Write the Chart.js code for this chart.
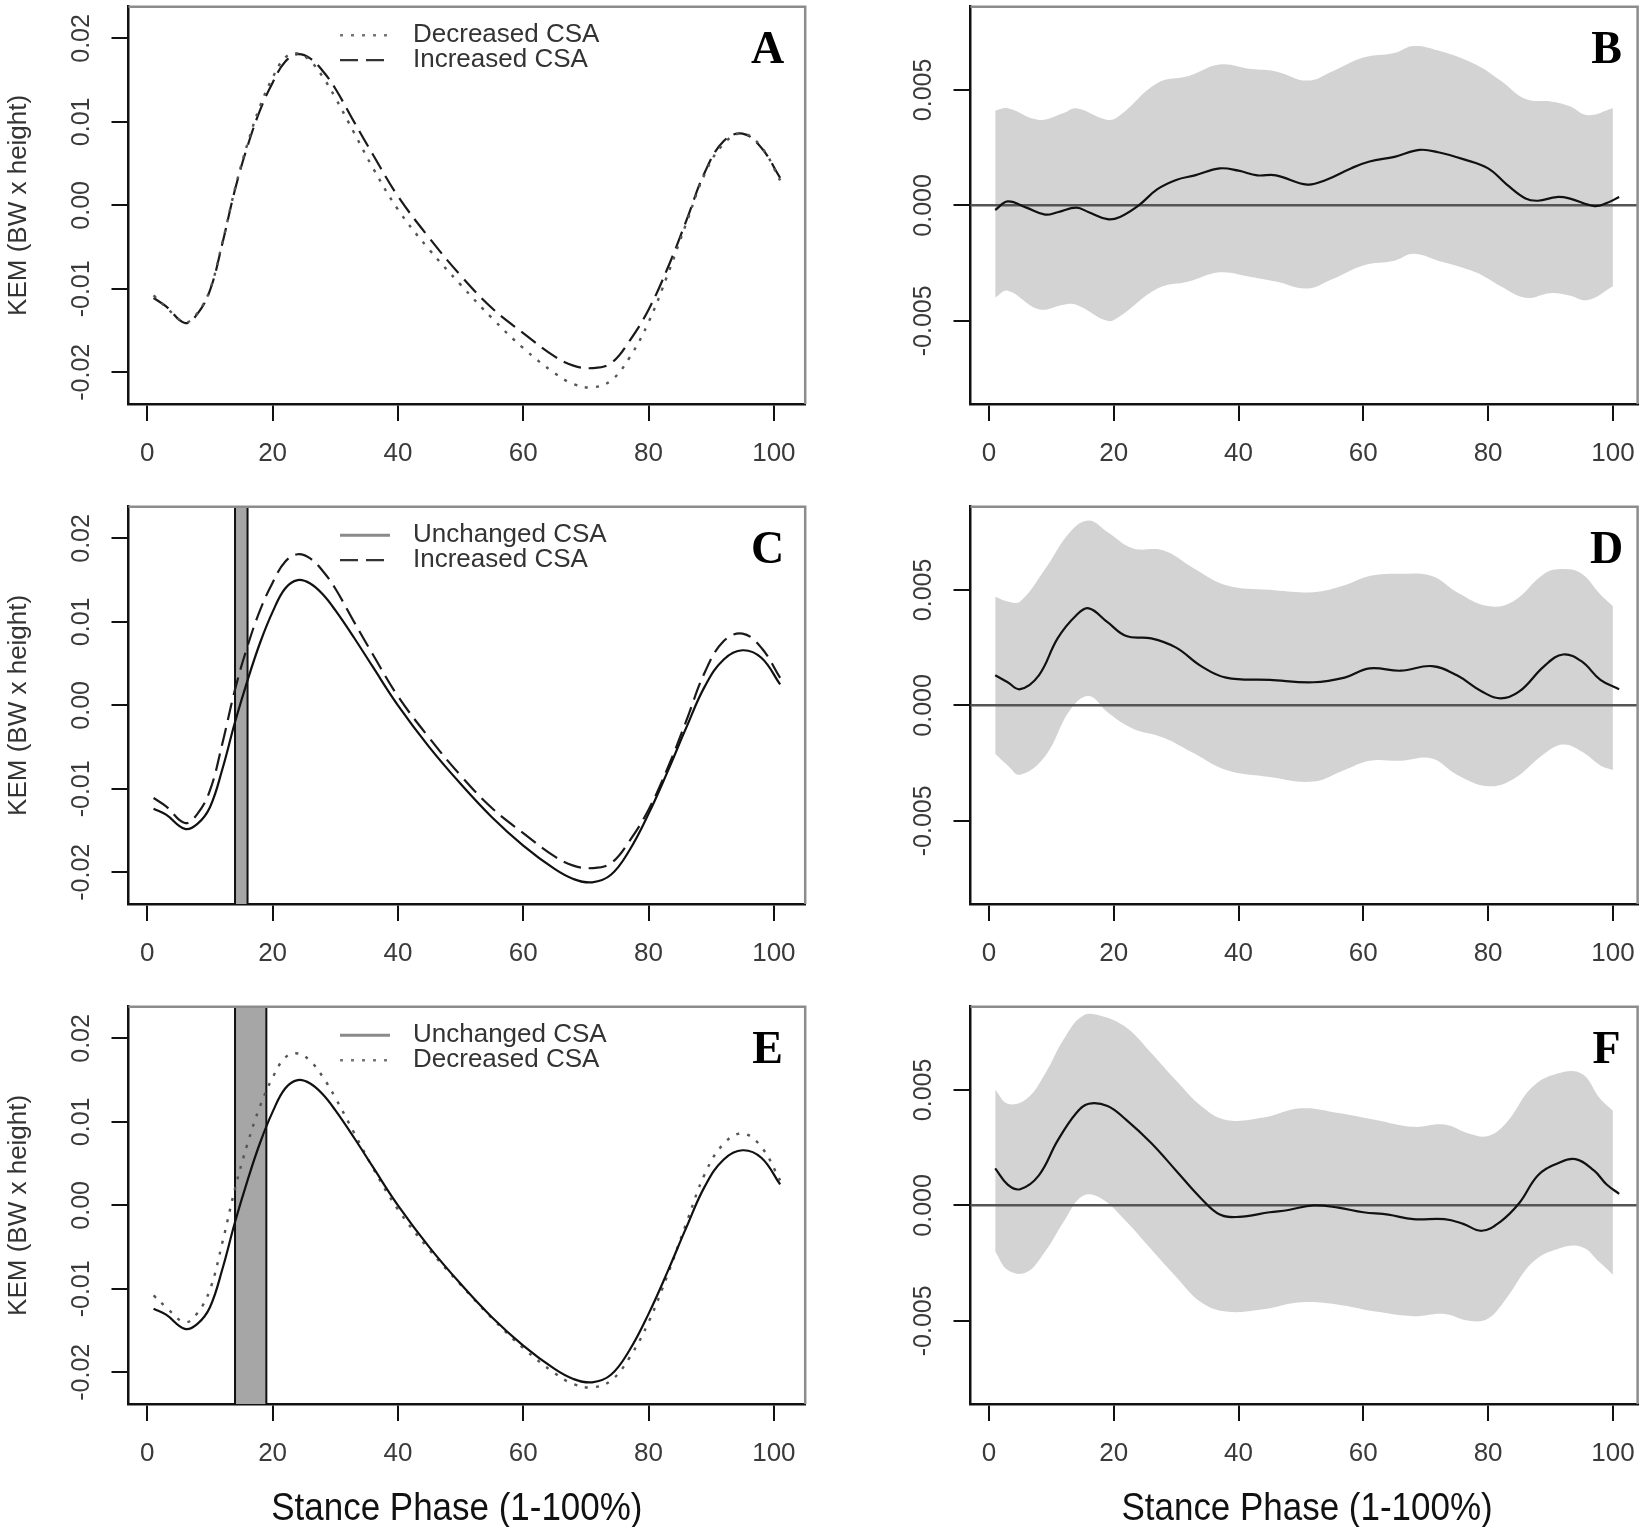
<!DOCTYPE html>
<html>
<head>
<meta charset="utf-8">
<script src="https://cdn.jsdelivr.net/npm/chart.js@4.4.1/dist/chart.umd.min.js"></script>
<style>
  html, body { margin: 0; padding: 0; background: #fff; }
  #page { position: relative; width: 1652px; height: 1527px; overflow: hidden; background: #fff; }
  #page canvas { position: absolute; }
</style>
</head>
<body>
<div id="page">
  <canvas id="panelA" width="826" height="500" style="left:0;top:0"></canvas>
  <canvas id="panelB" width="826" height="500" style="left:826px;top:0"></canvas>
  <canvas id="panelC" width="826" height="500" style="left:0;top:500px"></canvas>
  <canvas id="panelD" width="826" height="500" style="left:826px;top:500px"></canvas>
  <canvas id="panelE" width="826" height="527" style="left:0;top:1000px"></canvas>
  <canvas id="panelF" width="826" height="527" style="left:826px;top:1000px"></canvas>
</div>
<script>
// stance phase sample points for the KEM curves (panels A, C, E)
const kemX = [1, 3, 6, 8, 10, 12, 14, 16, 18, 20, 22, 24, 26, 28, 30, 33, 36, 40, 45, 50, 55, 60, 65, 68, 71, 74, 77, 80, 83, 86, 89, 92, 95, 98, 101];
const unchangedCSA = [-0.0124, -0.0131, -0.0148, -0.0142, -0.0122, -0.0076, -0.0020, 0.0030, 0.0075, 0.0112, 0.0140, 0.0150, 0.0146, 0.0133, 0.0114, 0.0081, 0.0046, 0.0000, -0.0050, -0.0094, -0.0134, -0.0168, -0.0196, -0.0208, -0.0212, -0.0203, -0.0173, -0.0130, -0.0080, -0.0027, 0.0023, 0.0055, 0.0066, 0.0057, 0.0025];
const increasedCSA = [-0.0111, -0.0121, -0.0141, -0.0130, -0.0102, -0.0045, 0.0019, 0.0071, 0.0114, 0.0147, 0.0172, 0.0181, 0.0176, 0.0161, 0.0140, 0.0100, 0.0061, 0.0011, -0.0039, -0.0084, -0.0123, -0.0153, -0.0181, -0.0192, -0.0195, -0.0189, -0.0162, -0.0125, -0.0076, -0.0019, 0.0040, 0.0077, 0.0086, 0.0069, 0.0033];
const decreasedCSA = [-0.0108, -0.0122, -0.0140, -0.0129, -0.0101, -0.0044, 0.0020, 0.0074, 0.0119, 0.0153, 0.0177, 0.0182, 0.0173, 0.0154, 0.0129, 0.0087, 0.0045, -0.0005, -0.0053, -0.0095, -0.0135, -0.0171, -0.0201, -0.0214, -0.0218, -0.0210, -0.0182, -0.0140, -0.0084, -0.0022, 0.0038, 0.0074, 0.0086, 0.0070, 0.0030];

// significant regions (shaded bars)
const sigRegionC = [14, 16];
const sigRegionE = [14, 19];

// B: increased - decreased
const bLineX = [1, 3, 6, 9, 11, 14, 16, 19, 21, 24, 27, 30, 33, 37, 40, 43, 46, 51, 54, 58, 61, 65, 69, 72, 76, 80, 83, 86, 88, 91, 93, 97, 99, 101];
const bLine = [-0.0002, 0.00017, -0.0001, -0.0004, -0.0003, -0.0001, -0.0003, -0.0006, -0.0005, 0.0000, 0.0007, 0.0011, 0.0013, 0.0016, 0.0015, 0.0013, 0.0013, 0.0009, 0.0011, 0.0016, 0.0019, 0.0021, 0.0024, 0.0023, 0.0020, 0.0016, 0.0009, 0.0003, 0.0002, 0.00036, 0.0003, -0.00003, 0.0001, 0.00036];
const bBandX = [1, 3, 8, 12, 14, 19, 21, 27, 32, 37, 42, 46, 51, 55, 60, 65, 68, 72, 78, 82, 86, 90, 93, 96, 100];
const bUpper = [0.0041, 0.0042, 0.0037, 0.0040, 0.0042, 0.0037, 0.0039, 0.0053, 0.0056, 0.0061, 0.0059, 0.0058, 0.0054, 0.0058, 0.0064, 0.0066, 0.0069, 0.0067, 0.0061, 0.0054, 0.0046, 0.0045, 0.0043, 0.0039, 0.0042];
const bLower = [-0.0040, -0.0037, -0.0045, -0.0043, -0.0043, -0.0050, -0.0048, -0.0036, -0.0033, -0.0029, -0.0031, -0.0033, -0.0036, -0.0032, -0.0026, -0.0024, -0.0021, -0.0024, -0.0029, -0.0035, -0.0040, -0.0038, -0.0039, -0.0041, -0.0035];

// D: increased - unchanged
const dLineX = [1, 3, 5, 8, 11, 14, 16, 19, 22, 26, 30, 34, 38, 45, 52, 57, 61, 66, 71, 75, 79, 82, 85, 89, 92, 95, 98, 101];
const dLine = [0.0013, 0.0010, 0.0007, 0.0013, 0.0029, 0.0039, 0.0042, 0.0036, 0.0030, 0.0029, 0.0025, 0.0017, 0.0012, 0.0011, 0.0010, 0.0012, 0.0016, 0.0015, 0.0017, 0.0013, 0.0006, 0.0003, 0.0006, 0.0017, 0.0022, 0.0019, 0.0011, 0.0007];
const dBandX = [1, 3, 5, 9, 13, 16, 19, 23, 28, 33, 38, 45, 52, 57, 61, 66, 71, 75, 80, 84, 89, 92, 95, 98, 100];
const dUpper = [0.0047, 0.0045, 0.0045, 0.0059, 0.0075, 0.0080, 0.0075, 0.0068, 0.0067, 0.0059, 0.0052, 0.0050, 0.0049, 0.0052, 0.0056, 0.0057, 0.0056, 0.0049, 0.0043, 0.0045, 0.0057, 0.0059, 0.0057, 0.0048, 0.0043];
const dLower = [-0.0021, -0.0026, -0.0030, -0.0022, -0.0002, 0.0004, -0.0003, -0.0010, -0.0014, -0.0021, -0.0028, -0.0031, -0.0033, -0.0028, -0.0024, -0.0024, -0.0023, -0.0030, -0.0035, -0.0032, -0.0021, -0.0017, -0.0020, -0.0026, -0.0028];

// F: decreased - unchanged
const fLineX = [1, 3, 5, 8, 11, 14, 16, 19, 22, 26, 30, 34, 37, 40, 45, 48, 52, 56, 60, 64, 68, 73, 76, 79, 82, 85, 88, 91, 94, 97, 99, 101];
const fLine = [0.0016, 0.0009, 0.0007, 0.0013, 0.0028, 0.0040, 0.0044, 0.0043, 0.0037, 0.0027, 0.0015, 0.0003, -0.0004, -0.0005, -0.0003, -0.0002, 0.0000, -0.0001, -0.0003, -0.0004, -0.0006, -0.0006, -0.0008, -0.0011, -0.0007, 0.0001, 0.0013, 0.0018, 0.0020, 0.0015, 0.0009, 0.0005];
const fBandX = [1, 3, 6, 9, 12, 15, 18, 22, 26, 30, 34, 38, 44, 50, 56, 62, 68, 73, 77, 80, 83, 87, 91, 95, 98, 100];
const fUpper = [0.0050, 0.0044, 0.0046, 0.0057, 0.0072, 0.0082, 0.0082, 0.0077, 0.0066, 0.0054, 0.0043, 0.0037, 0.0038, 0.0042, 0.0040, 0.0037, 0.0034, 0.0035, 0.0031, 0.0030, 0.0036, 0.0051, 0.0057, 0.0057, 0.0046, 0.0041];
const fLower = [-0.0020, -0.0028, -0.0029, -0.0020, -0.0007, 0.0004, 0.0003, -0.0007, -0.0019, -0.0031, -0.0042, -0.0046, -0.0045, -0.0042, -0.0043, -0.0046, -0.0048, -0.0047, -0.0050, -0.0049, -0.0040, -0.0025, -0.0019, -0.0018, -0.0025, -0.0030];

// ticks
const xTicks = [0, 20, 40, 60, 80, 100];
const xTickLabels = ['0', '20', '40', '60', '80', '100'];
const kemTicks = [-0.02, -0.01, 0, 0.01, 0.02];
const kemTickLabels = ['-0.02', '-0.01', '0.00', '0.01', '0.02'];
const diffTicks = [-0.005, 0, 0.005];
const diffTickLabels = ['-0.005', '0.000', '0.005'];

const SANS = '"Liberation Sans", Arial, sans-serif';

const lineStyles = {
  solid: { color: '#111', width: 2.2, dash: [], legendColor: '#8a8a8a', legendWidth: 3 },
  dashed: { color: '#1a1a1a', width: 2.2, dash: [18, 8], legendColor: '#333', legendWidth: 2.2 },
  dotted: { color: '#555', width: 2.4, dash: [3, 8], legendColor: '#777', legendWidth: 2.4 }
};

function pts(xs, ys) {
  return xs.map((x, i) => ({ x: x, y: ys[i] }));
}

const panels = [
  { id: 'panelA', col: 0, row: 0, letter: 'A',
    series: [['Decreased CSA', decreasedCSA, 'dotted'], ['Increased CSA', increasedCSA, 'dashed']] },
  { id: 'panelB', col: 1, row: 0, letter: 'B',
    diff: { lineX: bLineX, line: bLine, bandX: bBandX, upper: bUpper, lower: bLower } },
  { id: 'panelC', col: 0, row: 1, letter: 'C', region: sigRegionC,
    series: [['Unchanged CSA', unchangedCSA, 'solid'], ['Increased CSA', increasedCSA, 'dashed']] },
  { id: 'panelD', col: 1, row: 1, letter: 'D',
    diff: { lineX: dLineX, line: dLine, bandX: dBandX, upper: dUpper, lower: dLower } },
  { id: 'panelE', col: 0, row: 2, letter: 'E', region: sigRegionE,
    series: [['Unchanged CSA', unchangedCSA, 'solid'], ['Decreased CSA', decreasedCSA, 'dotted']] },
  { id: 'panelF', col: 1, row: 2, letter: 'F',
    diff: { lineX: fLineX, line: fLine, bandX: fBandX, upper: fUpper, lower: fLower } }
];

function makeDecor(p) {
  return {
    id: 'decor' + p.letter,
    beforeDatasetsDraw(chart) {
      if (!p.region) return;
      const { ctx, chartArea: a, scales: { x } } = chart;
      const x1 = x.getPixelForValue(p.region[0]);
      const x2 = x.getPixelForValue(p.region[1]);
      ctx.save();
      ctx.fillStyle = '#a6a6a6';
      ctx.fillRect(x1, a.top, x2 - x1, a.bottom - a.top);
      ctx.strokeStyle = '#111';
      ctx.lineWidth = 2;
      ctx.beginPath();
      ctx.moveTo(x1, a.top); ctx.lineTo(x1, a.bottom);
      ctx.moveTo(x2, a.top); ctx.lineTo(x2, a.bottom);
      ctx.stroke();
      ctx.restore();
    },
    beforeDatasetDraw(chart, args) {
      // zero reference line goes between the grey band and the mean curve
      if (!p.diff || args.index !== 0) return;
      const { ctx, chartArea: a, scales: { y } } = chart;
      const py = y.getPixelForValue(0);
      ctx.save();
      ctx.strokeStyle = '#555';
      ctx.lineWidth = 2.5;
      ctx.beginPath();
      ctx.moveTo(a.left, py);
      ctx.lineTo(a.right, py);
      ctx.stroke();
      ctx.restore();
    },
    afterDraw(chart) {
      const { ctx, chartArea: a, scales: { x, y } } = chart;
      ctx.save();

      // top + right of the box
      ctx.strokeStyle = '#8c8c8c';
      ctx.lineWidth = 2.5;
      ctx.beginPath();
      ctx.moveTo(a.left, a.top);
      ctx.lineTo(a.right, a.top);
      ctx.lineTo(a.right, a.bottom);
      ctx.stroke();

      // y tick labels, rotated parallel to the axis
      const ticks = p.diff ? diffTicks : kemTicks;
      const labels = p.diff ? diffTickLabels : kemTickLabels;
      ctx.fillStyle = '#3a3a3a';
      ctx.font = '25px ' + SANS;
      ctx.textAlign = 'center';
      ctx.textBaseline = 'middle';
      ticks.forEach((v, i) => {
        ctx.save();
        ctx.translate(a.left - 46, y.getPixelForValue(v));
        ctx.rotate(-Math.PI / 2);
        ctx.fillText(labels[i], 0, 0);
        ctx.restore();
      });

      // y axis title on the left column
      if (p.col === 0) {
        ctx.save();
        ctx.fillStyle = '#333';
        ctx.font = '26px ' + SANS;
        ctx.translate(19, (a.top + a.bottom) / 2);
        ctx.rotate(-Math.PI / 2);
        ctx.fillText('KEM (BW x height)', 0, 0);
        ctx.restore();
      }

      // panel letter
      ctx.fillStyle = '#000';
      ctx.font = 'bold 46px "Liberation Serif", "Times New Roman", serif';
      ctx.textBaseline = 'alphabetic';
      ctx.fillText(p.letter, x.getPixelForValue(99), a.top + 56.5);

      // legend
      if (p.series) {
        p.series.forEach((s, i) => {
          const st = lineStyles[s[2]];
          const ly = a.top + 28.5 + i * 25;
          ctx.strokeStyle = st.legendColor;
          ctx.lineWidth = st.legendWidth;
          ctx.setLineDash(st.dash);
          ctx.beginPath();
          ctx.moveTo(a.left + 211.5, ly);
          ctx.lineTo(a.left + 261.5, ly);
          ctx.stroke();
          ctx.setLineDash([]);
          ctx.fillStyle = '#333';
          ctx.font = '26px ' + SANS;
          ctx.textAlign = 'left';
          ctx.textBaseline = 'middle';
          ctx.fillText(s[0], a.left + 284.5, ly);
        });
      }

      // x axis title on bottom row
      if (p.row === 2) {
        const cx = (a.left + a.right) / 2 + (p.col === 0 ? -10 : 3);
        ctx.save();
        ctx.fillStyle = '#111';
        ctx.font = '38px ' + SANS;
        ctx.textAlign = 'center';
        ctx.textBaseline = 'alphabetic';
        ctx.translate(cx, 520);
        ctx.scale(0.92, 1);
        ctx.fillText('Stance Phase (1-100%)', 0, 0);
        ctx.restore();
      }
      ctx.restore();
    }
  };
}

function buildDatasets(p) {
  if (p.series) {
    return p.series.map(s => {
      const st = lineStyles[s[2]];
      return {
        label: s[0],
        data: pts(kemX, s[1]),
        borderColor: st.color,
        borderWidth: st.width,
        borderDash: st.dash,
        fill: false
      };
    });
  }
  const d = p.diff;
  return [
    { label: 'difference', data: pts(d.lineX, d.line), borderColor: '#111', borderWidth: 2.2, fill: false },
    { label: 'upper', data: pts(d.bandX, d.upper), borderColor: 'rgba(0,0,0,0)', borderWidth: 0, backgroundColor: '#d3d3d3', fill: '+1' },
    { label: 'lower', data: pts(d.bandX, d.lower), borderColor: 'rgba(0,0,0,0)', borderWidth: 0, fill: false }
  ];
}

panels.forEach(p => {
  const canvas = document.getElementById(p.id);
  const left = p.col === 0;
  const yLim = p.diff ? 0.0086 : 0.0238;
  const yTickVals = p.diff ? diffTicks : kemTicks;
  new Chart(canvas, {
    type: 'line',
    data: { datasets: buildDatasets(p) },
    options: {
      responsive: false,
      animation: false,
      events: [],
      layout: {
        padding: { left: left ? 88.5 : 104.5, right: left ? 20.8 : 11, top: 6.7, bottom: canvas.height - 404 - 80 }
      },
      plugins: { legend: { display: false }, tooltip: { enabled: false } },
      elements: {
        point: { radius: 0 },
        line: { tension: 0.4 }
      },
      scales: {
        x: {
          type: 'linear',
          min: left ? -3 : -2.96,
          max: left ? 105 : 103.96,
          afterBuildTicks: s => { s.ticks = xTicks.map(v => ({ value: v })); },
          afterFit: s => { s.height = 80; },
          grid: { display: true, drawOnChartArea: false, drawTicks: true, tickLength: 17, color: '#111', lineWidth: 2 },
          border: { display: true, color: '#111', width: 2.5 },
          ticks: {
            autoSkip: false, maxRotation: 0, padding: 17,
            color: '#3a3a3a', font: { family: SANS, size: 26 },
            callback: (v, i) => xTickLabels[i]
          }
        },
        y: {
          type: 'linear',
          min: -yLim,
          max: yLim,
          afterBuildTicks: s => { s.ticks = yTickVals.map(v => ({ value: v })); },
          afterFit: s => { s.width = 40; },
          grid: { display: true, drawOnChartArea: false, drawTicks: true, tickLength: 17, color: '#111', lineWidth: 2 },
          border: { display: true, color: '#111', width: 2.5 },
          ticks: { display: false }
        }
      }
    },
    plugins: [makeDecor(p)]
  });
});
</script>
</body>
</html>
